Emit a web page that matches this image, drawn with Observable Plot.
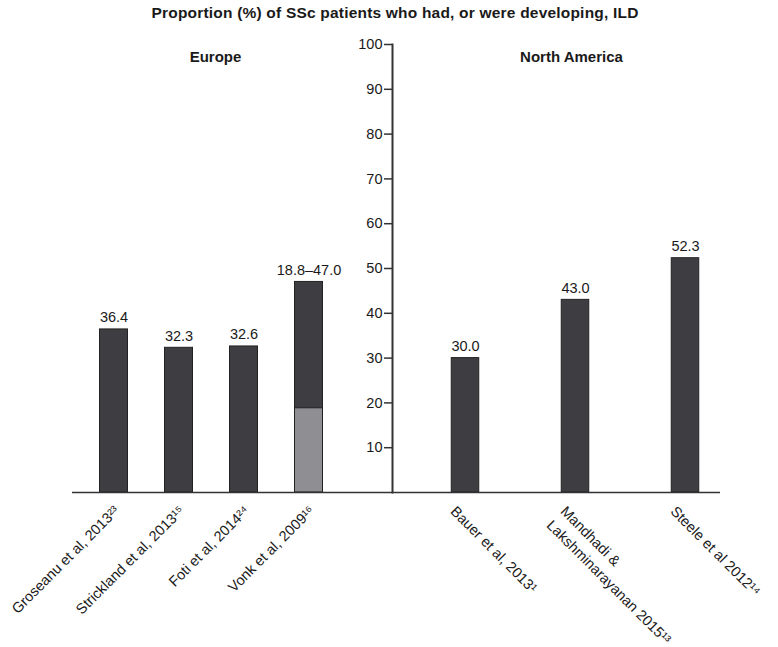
<!DOCTYPE html>
<html><head><meta charset="utf-8">
<script src="https://cdn.jsdelivr.net/npm/d3@7"></script>
<script src="https://cdn.jsdelivr.net/npm/@observablehq/plot@0.6"></script>
<style>
body{margin:0;background:#fff;}
#wrap{position:relative;width:778px;height:647px;font-family:"Liberation Sans",Arial,Helvetica,sans-serif;color:#1a1a1a;}
#title{position:absolute;top:4px;left:12px;width:766px;text-align:center;font-weight:bold;font-size:15.5px;letter-spacing:0.2px;line-height:18px;}
#left{position:absolute;left:0;top:0;}
#right{position:absolute;left:352px;top:0;}
</style></head>
<body>
<div id="wrap">
<div id="left"></div>
<div id="right"></div>
<div id="title">Proportion (%) of SSc patients who had, or were developing, ILD</div>
</div>
<script>
const europeStudies = ["Groseanu et al, 2013²³", "Strickland et al, 2013¹⁵", "Foti et al, 2014²⁴", "Vonk et al, 2009¹⁶"];
const europeValues = [36.4, 32.3, 32.6, 47.0];
const europeLower = [null, null, null, 18.8];
const europeLabels = ["36.4", "32.3", "32.6", "18.8–47.0"];
const naStudies = ["Bauer et al, 2013¹", "Mandhadi &\nLakshminarayanan 2015¹³", "Steele et al 2012¹⁴"];
const naValues = [30.0, 43.0, 52.3];
const yTicks = [10, 20, 30, 40, 50, 60, 70, 80, 90, 100];

const eu = europeStudies.map((s, i) => ({study: s, value: europeValues[i], lower: europeLower[i], label: europeLabels[i]}));
const na = naStudies.map((s, i) => ({study: s, value: naValues[i], label: naValues[i].toFixed(1)}));

const dark = "#3e3e42", light = "#8f8f93", edge = "#222", ink = "#1a1a1a";
const fs = 14.5;
const common = {
  height: 647, marginTop: 44, marginBottom: 155,
  style: {fontFamily: '"Liberation Sans", Arial, Helvetica, sans-serif', fontSize: fs + "px", color: ink, background: "transparent", overflow: "visible"}
};

const left = Plot.plot({
  ...common,
  width: 392, marginLeft: 72, marginRight: 0,
  x: {domain: europeStudies, range: [80.5, 340.5], padding: 0, axis: null},
  y: {domain: [0, 100], axis: null},
  marks: [
    Plot.barY(eu, {x: "study", y: "value", fill: dark, stroke: edge, strokeWidth: 1, insetLeft: 18.5, insetRight: 18.5}),
    Plot.barY(eu.filter(d => d.lower != null), {x: "study", y1: 0, y2: "lower", fill: light, stroke: edge, strokeWidth: 1, insetLeft: 18.5, insetRight: 18.5}),
    Plot.text(eu, {x: "study", y: "value", text: "label", lineAnchor: "bottom", dy: -7, fill: ink, fontSize: fs}),
    Plot.text(eu, {x: "study", text: "study", frameAnchor: "bottom", rotate: -45, textAnchor: "end", lineAnchor: "middle", dx: 3, dy: 16, fill: ink, fontSize: fs}),
    Plot.ruleY([0], {stroke: "#333", strokeWidth: 1.5}),
    Plot.text(["Europe"], {frameAnchor: "top", dx: -17, dy: 7, fontWeight: "bold", fontSize: 15, fill: ink})
  ]
});
document.getElementById("left").append(left);

const right = Plot.plot({
  ...common,
  width: 426, marginLeft: 40, marginRight: 58,
  x: {domain: naStudies, range: [56.75, 388.25], padding: 0, axis: null},
  y: {domain: [0, 100]},
  marks: [
    Plot.axisY(yTicks, {tickSize: 8, tickPadding: 2, fontSize: fs, label: null, stroke: "#333", strokeWidth: 1.5, fill: ink}),
    Plot.barY(na, {x: "study", y: "value", fill: dark, stroke: edge, strokeWidth: 1, insetLeft: 41.25, insetRight: 41.25}),
    Plot.text(na, {x: "study", y: "value", text: "label", lineAnchor: "bottom", dy: -7, fill: ink, fontSize: fs}),
    Plot.text(na, {x: "study", text: "study", frameAnchor: "bottom", rotate: 45, textAnchor: "start", lineAnchor: "top", lineHeight: 1.35, dx: -6, dy: 10, fill: ink, fontSize: fs}),
    Plot.frame({anchor: "left", stroke: "#333", strokeWidth: 2}),
    Plot.ruleY([0], {stroke: "#333", strokeWidth: 1.5}),
    Plot.text(["North America"], {frameAnchor: "top", dx: 15, dy: 7, fontWeight: "bold", fontSize: 15, fill: ink})
  ]
});
document.getElementById("right").append(right);
</script>
</body></html>
